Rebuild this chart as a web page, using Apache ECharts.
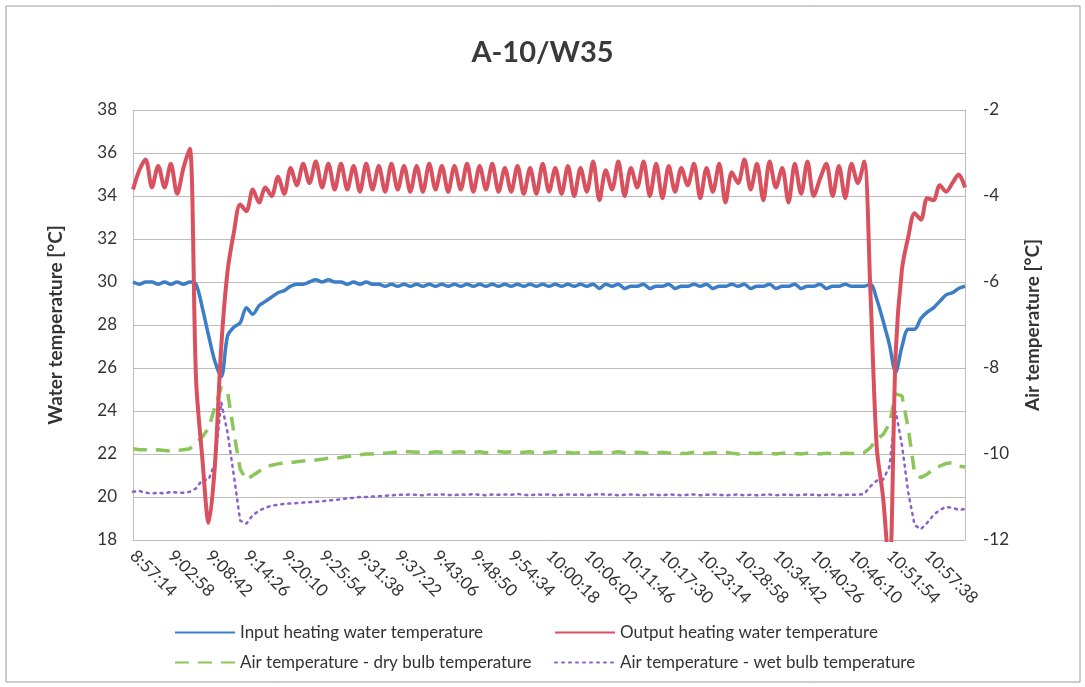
<!DOCTYPE html>
<html>
<head>
<meta charset="utf-8">
<title>A-10/W35</title>
<script src="https://cdn.jsdelivr.net/npm/echarts@6/dist/echarts.min.js"></script>
<style>
  html, body { margin: 0; padding: 0; background: #fff; }
  #chart { width: 1085px; height: 687px; }
</style>
</head>
<body>
<div id="chart"></div>
<script>
// tick labels shown on the time axis (one every 6 samples)
var tickLabels = ['8:57:14', '9:02:58', '9:08:42', '9:14:26', '9:20:10', '9:25:54', '9:31:38',
  '9:37:22', '9:43:06', '9:48:50', '9:54:34', '10:00:18', '10:06:02', '10:11:46', '10:17:30',
  '10:23:14', '10:28:58', '10:34:42', '10:40:26', '10:46:10', '10:51:54', '10:57:38']

var seriesNames = [
  'Input heating water temperature',
  'Output heating water temperature',
  'Air temperature - dry bulb temperature',
  'Air temperature - wet bulb temperature'
]

// water temperatures [°C], left axis
var inputWater = [
  30.0, 29.9, 30.0, 30.0, 29.9, 30.0, 29.9, 30.0, 29.9, 30.0,
  29.9, 28.8, 27.5, 26.3, 25.6, 27.5, 27.9, 28.1, 28.8, 28.5,
  28.9, 29.1, 29.3, 29.5, 29.6, 29.8, 29.9, 29.9, 30.0, 30.1,
  30.0, 30.1, 30.0, 30.0, 29.9, 30.0, 29.9, 30.0, 29.9, 29.9,
  29.8, 29.9, 29.8, 29.9, 29.8, 29.9, 29.8, 29.9, 29.8, 29.9,
  29.8, 29.9, 29.8, 29.9, 29.8, 29.9, 29.8, 29.9, 29.8, 29.9,
  29.8, 29.9, 29.8, 29.9, 29.8, 29.9, 29.8, 29.9, 29.8, 29.9,
  29.8, 29.9, 29.8, 29.9, 29.7, 29.9, 29.8, 29.9, 29.7, 29.8,
  29.8, 29.9, 29.7, 29.8, 29.8, 29.9, 29.7, 29.8, 29.8, 29.9,
  29.8, 29.9, 29.7, 29.8, 29.8, 29.9, 29.8, 29.9, 29.7, 29.8,
  29.8, 29.9, 29.7, 29.8, 29.8, 29.9, 29.7, 29.8, 29.8, 29.9,
  29.7, 29.8, 29.8, 29.9, 29.8, 29.8, 29.8, 29.9, 29.2, 28.2,
  27.1, 25.8, 27.0, 27.8, 27.8, 28.3, 28.6, 28.8, 29.1, 29.4,
  29.5, 29.7, 29.8
]

var outputWater = [
  34.3, 35.2, 35.7, 34.4, 35.4, 34.4, 35.5, 34.1, 35.3, 36.2,
  25.5, 21.8, 18.8, 21.5, 27.0, 30.5, 32.3, 33.6, 33.3, 34.3,
  33.7, 34.4, 34.0, 34.9, 34.1, 35.3, 34.5, 35.5, 34.6, 35.6,
  34.4, 35.5, 34.3, 35.5, 34.3, 35.4, 34.2, 35.5, 34.3, 35.4,
  34.2, 35.5, 34.3, 35.4, 34.2, 35.4, 34.2, 35.5, 34.3, 35.4,
  34.2, 35.4, 34.3, 35.5, 34.2, 35.4, 34.3, 35.5, 34.2, 35.3,
  34.2, 35.4, 34.1, 35.3, 34.1, 35.5, 34.2, 35.3, 34.1, 35.4,
  34.0, 35.3, 34.2, 35.6, 33.8, 35.2, 34.3, 35.6, 34.0, 35.3,
  34.4, 35.6, 34.0, 35.5, 33.9, 35.4, 34.2, 35.3, 34.5, 35.5,
  33.9, 35.3, 34.2, 35.5, 33.7, 35.1, 34.6, 35.7, 34.3, 35.5,
  33.8, 35.6, 34.4, 35.3, 33.7, 35.5, 34.1, 35.6, 34.0, 34.8,
  35.5, 34.0, 35.4, 33.9, 35.5, 34.6, 35.6, 29.5, 22.3, 20.0,
  16.5, 26.7, 30.6, 32.1, 33.2, 32.9, 33.9, 33.8, 34.5, 34.2,
  34.6, 35.0, 34.4
]

// air temperatures [°C], right axis
var dryBulb = [
  -9.88, -9.9, -9.9, -9.92, -9.9, -9.92, -9.93, -9.92, -9.9, -9.88,
  -9.75, -9.6, -9.4, -8.9, -8.45, -8.55, -9.5, -10.35, -10.6, -10.5,
  -10.4, -10.3, -10.26, -10.23, -10.2, -10.2, -10.18, -10.16, -10.15, -10.14,
  -10.12, -10.1, -10.1, -10.08, -10.06, -10.04, -10.02, -10.0, -10.0, -9.98,
  -9.98, -9.97, -9.96, -9.95, -9.95, -9.96, -9.95, -9.97, -9.95, -9.96,
  -9.94, -9.96, -9.95, -9.97, -9.96, -9.95, -9.97, -9.96, -9.94, -9.96,
  -9.95, -9.97, -9.96, -9.95, -9.97, -9.98, -9.96, -9.95, -9.97, -9.96,
  -9.98, -9.96, -9.95, -9.97, -9.96, -9.98, -9.97, -9.95, -9.97, -9.98,
  -9.96, -9.97, -9.99, -9.97, -9.96, -9.98, -9.97, -9.99, -9.98, -9.96,
  -9.98, -9.99, -9.97, -9.98, -9.96, -9.98, -10.0, -9.97, -9.98, -9.99,
  -9.97, -9.98, -10.0, -9.98, -9.97, -9.99, -10.0, -9.98, -9.99, -10.0,
  -9.98, -9.99, -10.0, -9.98, -9.99, -9.98, -9.97, -9.85, -9.65, -9.55,
  -9.3, -8.6, -8.65, -9.4, -10.45, -10.55, -10.47, -10.35, -10.28, -10.22,
  -10.2, -10.28, -10.3
]

var wetBulb = [
  -10.88, -10.86, -10.9, -10.92, -10.9, -10.92, -10.88, -10.9, -10.9, -10.88,
  -10.8, -10.6, -10.6, -10.2, -8.8, -9.5, -10.5, -11.55, -11.62, -11.42,
  -11.32, -11.25, -11.2, -11.18, -11.16, -11.15, -11.14, -11.13, -11.12, -11.11,
  -11.1, -11.08, -11.07, -11.05, -11.03, -11.02, -11.0, -11.0, -10.99, -10.98,
  -10.97, -10.96, -10.95, -10.95, -10.94, -10.95, -10.96, -10.94, -10.95, -10.94,
  -10.95, -10.96, -10.94, -10.95, -10.93, -10.95, -10.96, -10.94, -10.95, -10.94,
  -10.95, -10.93, -10.95, -10.96, -10.94, -10.95, -10.94, -10.96, -10.95, -10.94,
  -10.95, -10.94, -10.96, -10.95, -10.93, -10.95, -10.94, -10.96, -10.95, -10.94,
  -10.95, -10.96, -10.94, -10.95, -10.96, -10.94, -10.95, -10.96, -10.95, -10.94,
  -10.96, -10.95, -10.94, -10.95, -10.96, -10.95, -10.94, -10.96, -10.95, -10.96,
  -10.95, -10.94, -10.96, -10.95, -10.94, -10.96, -10.95, -10.94, -10.95, -10.96,
  -10.95, -10.94, -10.96, -10.95, -10.95, -10.95, -10.93, -10.75, -10.62, -10.6,
  -10.3, -9.0, -9.8, -10.9, -11.65, -11.75, -11.6, -11.42, -11.3, -11.23,
  -11.25, -11.3, -11.28
]

var samplesPerTick = 6
var categories = inputWater.map(function (v, i) {
  return i % samplesPerTick === 0 ? (tickLabels[i / samplesPerTick] || '') : ''
})

var font = 'Lato, "Open Sans", sans-serif'
var gridColor = '#bdbdbd'

function legendAt (name, left, top) {
  return {
    data: [name],
    left: left,
    top: top,
    itemWidth: 60,
    itemHeight: 12,
    itemGap: 4,
    itemStyle: { opacity: 0 },
    textStyle: { fontFamily: font, fontSize: 17, color: '#333' }
  }
}

var option = {
  backgroundColor: '#fff',
  animation: false,
  title: {
    text: 'A-10/W35',
    left: 'center',
    top: 33,
    textStyle: { fontFamily: font, fontSize: 29, fontWeight: 'bold', color: '#3a3a3a' }
  },
  graphic: [{
    type: 'rect',
    shape: { x: 6, y: 6, width: 1074, height: 676 },
    style: { fill: 'none', stroke: '#9a9a9a', lineWidth: 1 }
  }],
  legend: [
    legendAt(seriesNames[0], 169, 619),
    legendAt(seriesNames[1], 549, 619),
    legendAt(seriesNames[2], 169, 649),
    legendAt(seriesNames[3], 549, 649)
  ],
  grid: { left: 133, right: 120, top: 110, bottom: 147 },
  xAxis: {
    type: 'category',
    data: categories,
    boundaryGap: false,
    axisLine: { show: true, lineStyle: { color: gridColor } },
    axisTick: { show: false },
    axisLabel: {
      interval: samplesPerTick - 1,
      rotate: -45,
      margin: 13,
      fontFamily: font,
      fontSize: 17,
      color: '#333'
    },
    splitLine: { show: false }
  },
  yAxis: [{
    type: 'value',
    min: 18,
    max: 38,
    interval: 2,
    name: 'Water temperature [°C]',
    nameLocation: 'middle',
    nameRotate: 90,
    nameGap: 68,
    nameTextStyle: { fontFamily: font, fontSize: 19, fontWeight: 'bold', color: '#333' },
    axisLine: { show: true, lineStyle: { color: gridColor } },
    axisTick: { show: false },
    axisLabel: { margin: 16, fontFamily: font, fontSize: 17, color: '#333' },
    splitLine: { show: true, lineStyle: { color: gridColor, width: 1 } }
  }, {
    type: 'value',
    position: 'right',
    min: -12,
    max: -2,
    interval: 2,
    name: 'Air temperature [°C]',
    nameLocation: 'middle',
    nameRotate: 90,
    nameGap: 58,
    nameTextStyle: { fontFamily: font, fontSize: 19, fontWeight: 'bold', color: '#333' },
    axisLine: { show: true, lineStyle: { color: gridColor } },
    axisTick: { show: false },
    axisLabel: { margin: 18, fontFamily: font, fontSize: 17, color: '#333' },
    splitLine: { show: false }
  }],
  series: [{
    name: seriesNames[0],
    type: 'line',
    yAxisIndex: 0,
    data: inputWater,
    symbol: 'none',
    smooth: 0.3,
    z: 3,
    lineStyle: { color: '#3b7dc6', width: 3.5 },
    itemStyle: { color: '#3b7dc6' }
  }, {
    name: seriesNames[1],
    type: 'line',
    yAxisIndex: 0,
    data: outputWater,
    symbol: 'none',
    smooth: 0.3,
    z: 4,
    lineStyle: { color: '#d9505e', width: 4, join: 'round' },
    itemStyle: { color: '#d9505e' }
  }, {
    name: seriesNames[2],
    type: 'line',
    yAxisIndex: 1,
    data: dryBulb,
    symbol: 'none',
    z: 2,
    lineStyle: { color: '#8cc65a', width: 3.5, type: [14, 9] },
    itemStyle: { color: '#8cc65a' }
  }, {
    name: seriesNames[3],
    type: 'line',
    yAxisIndex: 1,
    data: wetBulb,
    symbol: 'none',
    z: 2,
    lineStyle: { color: '#8a62c8', width: 2.5, type: [2, 5], cap: 'round' },
    itemStyle: { color: '#8a62c8' }
  }]
}

var myChart = echarts.init(document.getElementById('chart'))
myChart.setOption(option)
</script>
</body>
</html>
